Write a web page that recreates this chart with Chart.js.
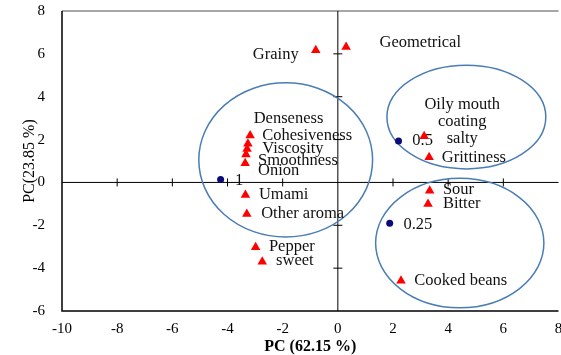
<!DOCTYPE html>
<html>
<head>
<meta charset="utf-8">
<script src="https://cdn.jsdelivr.net/npm/chart.js@4.4.1/dist/chart.umd.min.js"></script>
<style>
html, body { margin: 0; padding: 0; background: #fff; overflow: hidden; }
#wrap { width: 561px; height: 355px; overflow: hidden; }
canvas { display: block; }
</style>
</head>
<body>
<div id="wrap"><canvas id="pca" width="564" height="355"></canvas></div>
<script>
// attribute loadings (red triangles)
var attrX = [-0.8, 0.3, -3.18, -3.26, -3.29, -3.33, -3.36, -3.35, -3.3, -2.98, -2.74, 3.13, 3.31, 3.33, 3.27, 2.29];
var attrY = [6.17, 6.32, 2.19, 1.81, 1.56, 1.30, 0.89, -0.59, -1.47, -3.02, -3.7, 2.16, 1.17, -0.39, -1.01, -4.59];

// samples (blue dots)
var sampleX = [-4.25, 2.2, 1.88];
var sampleY = [0.14, 1.93, -1.91];

// text annotations, anchored in data units
var labelText  = ['Grainy', 'Geometrical', 'Denseness', 'Cohesiveness', 'Viscosity', 'Smoothness', 'Onion', '1',
                  'Umami', 'Other aroma', 'Pepper', 'sweet', 'Oily mouth', 'coating', 'salty', '0.5',
                  'Grittiness', 'Sour', 'Bitter', '0.25', 'Cooked beans'];
var labelX     = [-1.42, 1.51, -3.05, -2.74, -2.74, -2.89, -2.89, -3.73,
                  -2.86, -2.78, -2.5, -2.24, 4.51, 4.51, 4.51, 2.7,
                  3.77, 3.81, 3.81, 2.38, 2.77];
var labelY     = [5.98, 6.51, 2.99, 2.16, 1.59, 1.01, 0.55, 0.08,
                  -0.59, -1.47, -3.02, -3.65, 3.61, 2.83, 2.02, 1.93,
                  1.17, -0.35, -1.01, -1.95, -4.59];
var labelAlign = ['right', 'left', 'left', 'left', 'left', 'left', 'left', 'left',
                  'left', 'left', 'left', 'left', 'center', 'center', 'center', 'left',
                  'left', 'left', 'left', 'left', 'left'];

// group ellipses: centre and radii in data units
var ellCx = [-1.89, 4.66, 4.42];
var ellCy = [1.05, 3.05, -2.83];
var ellRx = [3.15, 2.88, 3.05];
var ellRy = [3.6, 2.42, 3.02];

var xTicks = [-10, -8, -6, -4, -2, 0, 2, 4, 6, 8];
var yTicks = [-6, -4, -2, 0, 2, 4, 6, 8];

function pts(xs, ys) {
    return xs.map(function(v, i) { return {x: v, y: ys[i]}; });
}

var serif = '"Liberation Serif", "Times New Roman", serif';

// frame, cross axes through the origin, ellipses and labels
var overlay = {
    id: 'overlay',
    beforeDatasetsDraw: function(chart) {
        var ctx = chart.ctx, sx = chart.scales.x, sy = chart.scales.y, a = chart.chartArea;
        var x0 = sx.getPixelForValue(0), y0 = sy.getPixelForValue(0);
        var ux = sx.getPixelForValue(1) - x0, uy = y0 - sy.getPixelForValue(1);
        ctx.save();

        // top border is lighter
        ctx.strokeStyle = '#8a8a8a';
        ctx.lineWidth = 1.5;
        ctx.beginPath();
        ctx.moveTo(a.left, a.top); ctx.lineTo(a.right, a.top);
        ctx.stroke();

        ctx.strokeStyle = '#000';
        ctx.beginPath();
        ctx.moveTo(a.left, a.top); ctx.lineTo(a.left, a.bottom); ctx.lineTo(a.right, a.bottom);
        ctx.stroke();

        ctx.lineWidth = 1;
        ctx.beginPath();
        ctx.moveTo(x0, a.top); ctx.lineTo(x0, a.bottom);
        ctx.moveTo(a.left, y0); ctx.lineTo(a.right, y0);
        xTicks.forEach(function(v) {
            if (v === 0 || v === xTicks[0] || v === xTicks[xTicks.length - 1]) return;
            var p = sx.getPixelForValue(v);
            ctx.moveTo(p, y0 - 4); ctx.lineTo(p, y0 + 4);
        });
        yTicks.forEach(function(v) {
            if (v === 0 || v === yTicks[0] || v === yTicks[yTicks.length - 1]) return;
            var p = sy.getPixelForValue(v);
            ctx.moveTo(x0 - 4.5, p); ctx.lineTo(x0 + 4.5, p);
        });
        ctx.stroke();

        ctx.strokeStyle = '#4a7db5';
        ctx.lineWidth = 1.5;
        for (var i = 0; i < ellCx.length; i++) {
            ctx.beginPath();
            ctx.ellipse(sx.getPixelForValue(ellCx[i]), sy.getPixelForValue(ellCy[i]),
                        ellRx[i] * ux, ellRy[i] * uy, 0, 0, Math.PI * 2);
            ctx.stroke();
        }

        ctx.fillStyle = '#111';
        ctx.font = '16.5px ' + serif;
        ctx.textBaseline = 'middle';
        for (var j = 0; j < labelText.length; j++) {
            ctx.textAlign = labelAlign[j];
            ctx.fillText(labelText[j], sx.getPixelForValue(labelX[j]), sy.getPixelForValue(labelY[j]));
        }
        ctx.restore();
    }
};

new Chart(document.getElementById('pca'), {
    type: 'scatter',
    data: {
        datasets: [
            {
                label: 'Attributes',
                data: pts(attrX, attrY),
                pointStyle: 'triangle',
                pointRadius: 5.5,
                backgroundColor: '#ff0000',
                borderColor: '#ff0000',
                borderWidth: 0
            },
            {
                label: 'Samples',
                data: pts(sampleX, sampleY),
                pointStyle: 'circle',
                pointRadius: 3.5,
                backgroundColor: '#0a0a7a',
                borderColor: '#0a0a7a',
                borderWidth: 0
            }
        ]
    },
    options: {
        responsive: false,
        animation: false,
        devicePixelRatio: 1,
        layout: { padding: { top: 11, right: 0, bottom: 0, left: 0 } },
        plugins: { legend: { display: false }, tooltip: { enabled: false } },
        scales: {
            x: {
                type: 'linear', min: -10, max: 8,
                afterBuildTicks: function(s) { s.ticks = xTicks.map(function(v) { return {value: v}; }); },
                afterFit: function(s) { s.height = 44; s.paddingLeft = 0; s.paddingRight = 0; },
                grid: { display: false, drawTicks: false },
                border: { display: false },
                ticks: { color: '#000', padding: 9, font: { family: serif, size: 15 } },
                title: {
                    display: true, text: 'PC (62.15 %)', color: '#000',
                    padding: { top: 0, bottom: 0 },
                    font: { family: serif, size: 16, weight: 'bold', lineHeight: 1 }
                }
            },
            y: {
                type: 'linear', min: -6, max: 8,
                afterBuildTicks: function(s) { s.ticks = yTicks.map(function(v) { return {value: v}; }); },
                afterFit: function(s) { s.width = 62; s.paddingTop = 0; s.paddingBottom = 0; },
                grid: { display: false, drawTicks: false },
                border: { display: false },
                ticks: { color: '#000', padding: 17, font: { family: serif, size: 15 } },
                title: {
                    display: true, text: 'PC(23.85 %)', color: '#000',
                    padding: { top: 20, bottom: 0 },
                    font: { family: serif, size: 16 }
                }
            }
        }
    },
    plugins: [overlay]
});
</script>
</body>
</html>
